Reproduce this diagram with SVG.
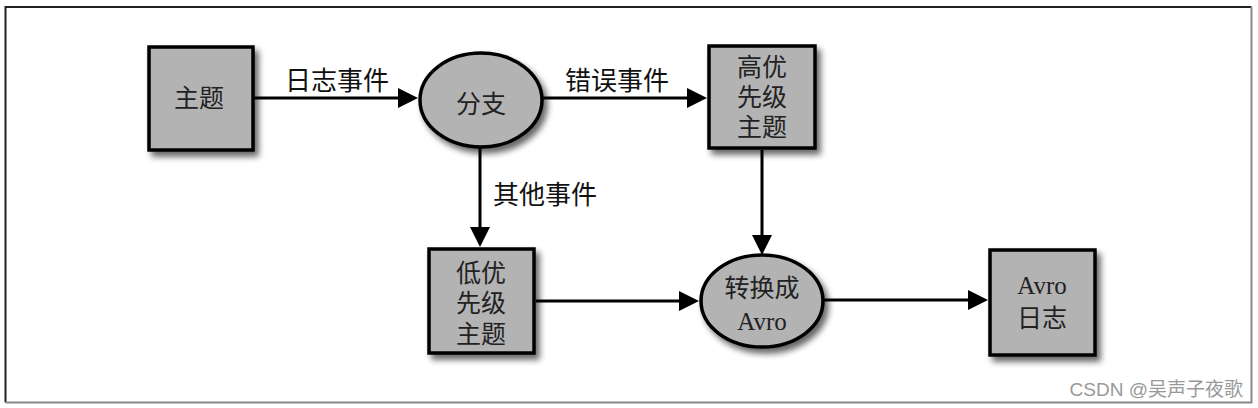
<svg xmlns="http://www.w3.org/2000/svg" width="1258" height="408" viewBox="0 0 1258 408">
<style>
.node{fill:#b3b3b3;stroke:#000;stroke-width:3.5}
.nt{font-family:"Liberation Serif","Noto Sans CJK SC",serif;font-size:25px;fill:#222;text-anchor:middle}
.lbl{font-family:"Noto Sans CJK SC",sans-serif;font-size:26px;fill:#111}
.edge{stroke:#000;stroke-width:3;fill:none}
</style>
<defs>
<filter id="sh" x="-20%" y="-20%" width="150%" height="150%">
<feGaussianBlur in="SourceAlpha" stdDeviation="3"/>
<feOffset dx="4" dy="5" result="b"/>
<feComponentTransfer><feFuncA type="linear" slope="0.6"/></feComponentTransfer>
<feMerge><feMergeNode/><feMergeNode in="SourceGraphic"/></feMerge>
</filter>
</defs>
<rect x="0" y="0" width="1258" height="408" fill="#fff"/>
<path d="M5.5,402.5 V7 H1251.5" stroke="#222" stroke-width="2" fill="none"/>
<path d="M1251.5,7 V402.5 H5.5" stroke="#888" stroke-width="2" fill="none"/>

<g id="edges">
<line class="edge" x1="254" y1="98" x2="400" y2="98"/>
<path d="M418,98 l-20,-10 v20 z" fill="#000"/>
<line class="edge" x1="543" y1="98" x2="690" y2="98"/>
<path d="M707,98 l-20,-10 v20 z" fill="#000"/>
<line class="edge" x1="480" y1="148" x2="480" y2="230"/>
<path d="M480,247 l-10,-20 h20 z" fill="#000"/>
<line class="edge" x1="762" y1="150" x2="762" y2="238"/>
<path d="M762,255 l-10,-20 h20 z" fill="#000"/>
<line class="edge" x1="536" y1="301" x2="682" y2="301"/>
<path d="M699,301 l-20,-10 v20 z" fill="#000"/>
<line class="edge" x1="823" y1="300" x2="970" y2="300"/>
<path d="M988,300 l-20,-10 v20 z" fill="#000"/>
<text class="lbl" x="285" y="90">日志事件</text>
<text class="lbl" x="565" y="90">错误事件</text>
<text class="lbl" x="493" y="204">其他事件</text>
</g>

<g id="n-topic">
<rect class="node" x="149" y="47" width="104" height="103" filter="url(#sh)"/>
<text class="nt" x="199" y="107">主题</text>
</g>
<g id="n-branch">
<ellipse class="node" cx="481" cy="100" rx="61" ry="47" filter="url(#sh)"/>
<text class="nt" x="481" y="113">分支</text>
</g>
<g id="n-high">
<rect class="node" x="709" y="46" width="106" height="102" filter="url(#sh)"/>
<text class="nt" x="762" y="76">高优</text>
<text class="nt" x="762" y="106">先级</text>
<text class="nt" x="762" y="136">主题</text>
</g>
<g id="n-low">
<rect class="node" x="429" y="249" width="105" height="104" filter="url(#sh)"/>
<text class="nt" x="481" y="282">低优</text>
<text class="nt" x="481" y="312">先级</text>
<text class="nt" x="481" y="343">主题</text>
</g>
<g id="n-convert">
<ellipse class="node" cx="762" cy="301" rx="61" ry="46" filter="url(#sh)"/>
<text class="nt" x="762" y="297">转换成</text>
<text class="nt" x="762" y="330">Avro</text>
</g>
<g id="n-avrolog">
<rect class="node" x="990" y="250" width="105" height="105" filter="url(#sh)"/>
<text class="nt" x="1042" y="294">Avro</text>
<text class="nt" x="1042" y="327">日志</text>
</g>
<text x="1243" y="396" font-family="'Liberation Sans','Noto Sans CJK SC',sans-serif" font-size="19" fill="#999" text-anchor="end">CSDN @吴声子夜歌</text>
</svg>
